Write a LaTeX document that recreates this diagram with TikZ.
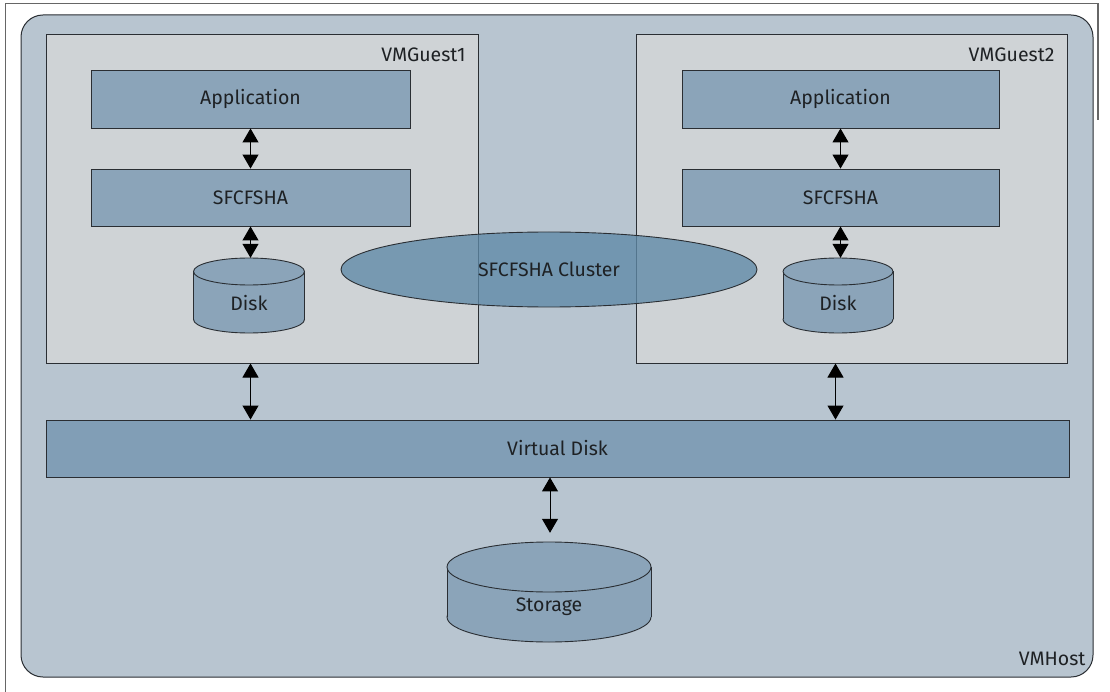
\documentclass[tikz,border=0pt]{standalone}
\usepackage{fontspec}
\setmainfont{Fira Sans}
\usetikzlibrary{arrows.meta,calc,shapes.geometric}
\definecolor{hostbg}{HTML}{B8C5D0}
\definecolor{guestbg}{HTML}{CFD3D6}
\definecolor{boxbg}{HTML}{8BA4B9}
\definecolor{vdiskbg}{HTML}{819EB6}
\definecolor{clusterbg}{HTML}{5F89A7}
\definecolor{edge}{HTML}{2A2E33}
\definecolor{txt}{HTML}{1E2124}
\tikzset{
  every node/.style={text=txt,font=\fontsize{19.5}{23}\selectfont},
  guestbox/.style={draw=edge,fill=guestbg,line width=1pt,inner sep=0pt},
  layerbox/.style={draw=edge,fill=boxbg,line width=0.9pt,inner sep=0pt},
  cyl/.style={fill=boxbg},
  cyledge/.style={draw=edge,line width=0.9pt},
  biarrow/.style={draw=black,line width=1pt,{Triangle[width=16pt,length=14pt]}-{Triangle[width=16pt,length=14pt]}},
  ghost/.style={inner sep=0pt}
}
\newcommand{\mycyl}[5]{% cx, top, bottom, rx, ry
  \fill[cyl] (#1,#3-#5) ellipse[x radius=#4,y radius=#5];
  \draw[cyledge] (#1,#3-#5) ellipse[x radius=#4,y radius=#5];
  \fill[cyl] (#1-#4,#2+#5) rectangle (#1+#4,#3-#5);
  \draw[cyledge] (#1-#4,#2+#5) -- (#1-#4,#3-#5);
  \draw[cyledge] (#1+#4,#2+#5) -- (#1+#4,#3-#5);
  \fill[cyl] (#1,#2+#5) ellipse[x radius=#4,y radius=#5];
  \draw[cyledge] (#1,#2+#5) ellipse[x radius=#4,y radius=#5];
}
\begin{document}
\begin{tikzpicture}[x=1pt,y=-1pt]
\useasboundingbox (0,0) rectangle (1110,692);
\fill[white] (0,0) rectangle (1110,692);
% outer frame
\draw[gray!80!black,line width=1.2pt] (5.5,692) -- (5.5,3.5) -- (1098,3.5) -- (1098,120);
% host
\draw[fill=hostbg,draw=edge,line width=1pt,rounded corners=22pt] (21,15) rectangle (1093,677);
\node[anchor=east] (hostlbl) at (1089,659) {VMHost};
% guests
\node[guestbox,minimum width=432pt,minimum height=328pt] (guest1) at (262,199) {};
\node[guestbox,minimum width=431pt,minimum height=328pt] (guest2) at (851.5,199) {};
\node[anchor=east] (g1lbl) at (469,55) {VMGuest1};
\node[anchor=east] (g2lbl) at (1058,55) {VMGuest2};
% layers
\node[layerbox,minimum width=319pt,minimum height=58pt] (app1) at (250.5,99) {Application};
\node[layerbox,minimum width=319pt,minimum height=57pt] (sfc1) at (250.5,197.5) {SFCFSHA};
\node[layerbox,minimum width=317pt,minimum height=58pt] (app2) at (840.5,99) {Application};
\node[layerbox,minimum width=317pt,minimum height=57pt] (sfc2) at (840.5,197.5) {SFCFSHA};
% disks
\mycyl{249}{258}{333}{55.5}{13.5}
\mycyl{838}{258}{333}{55}{13.5}
\node[ghost,minimum width=111pt,minimum height=75pt] (disk1) at (249,295.5) {};
\node[ghost,minimum width=110pt,minimum height=75pt] (disk2) at (838,295.5) {};
\node (disk1lbl) at (249,303) {Disk};
\node (disk2lbl) at (838,303) {Disk};
% cluster
\node[ellipse,draw=edge,line width=0.9pt,fill=clusterbg,fill opacity=0.78,text opacity=1,inner sep=0pt,minimum width=416pt,minimum height=75pt] (cluster) at (549,269.5) {SFCFSHA Cluster};
% virtual disk
\node[layerbox,fill=vdiskbg,minimum width=1023pt,minimum height=57pt] (vdisk) at (557.5,448.5) {Virtual Disk};
% storage
\mycyl{549}{542}{642}{102}{25}
\node[ghost,minimum width=204pt,minimum height=100pt] (storage) at (549,592) {};
\node (storagelbl) at (549,607) {Storage};
\coordinate (stortop) at ($(storage.north)+(0,-9)$);
% arrows
\draw[biarrow] (app1.south) -- (sfc1.south |- sfc1.north);
\draw[biarrow] (sfc1.south) -- (disk1.north -| sfc1.south);
\draw[biarrow] (app2.south) -- (sfc2.south |- sfc2.north);
\draw[biarrow] (sfc2.south) -- (disk2.north -| sfc2.south);
\draw[biarrow] (app1.south |- guest1.south) -- (app1.south |- vdisk.north);
\coordinate (g2a) at ($(guest2.south)+(-16,0)$);
\draw[biarrow] (g2a) -- (g2a |- vdisk.north);
\draw[biarrow] ($(vdisk.south -| storage.north)+(1,0)$) -- ($(stortop)+(1,0)$);
\end{tikzpicture}
\end{document}
